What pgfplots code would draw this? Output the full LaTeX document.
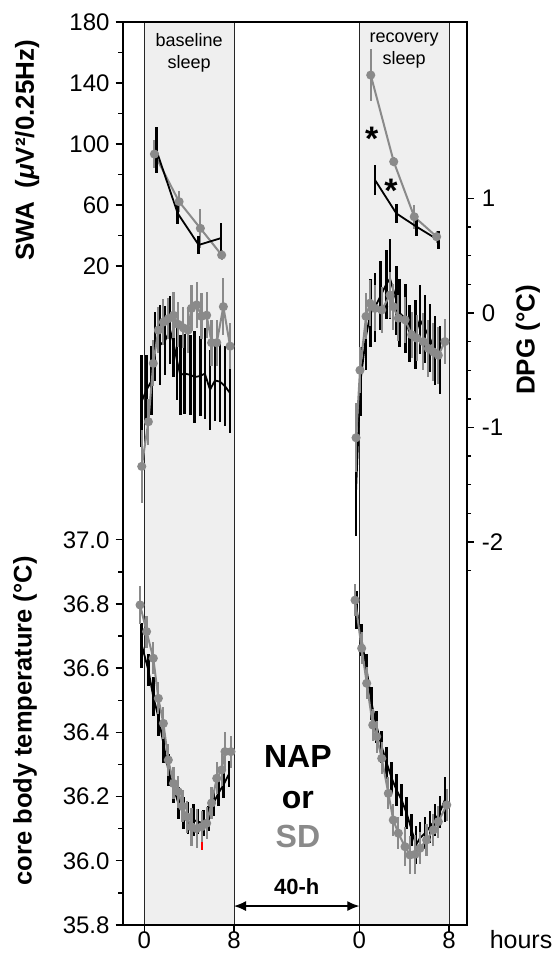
\documentclass[border=0pt]{standalone}
\usepackage{fontspec}
\setmainfont{Liberation Sans}
\usepackage{pgfplots}
\usepackage{pgfplotstable}
\pgfplotsset{compat=1.18}
\usetikzlibrary{arrows.meta}
\definecolor{bgshade}{RGB}{239,239,239}
\definecolor{dgray}{RGB}{138,138,138}

% ---------- SWA ----------
\pgfplotstableread{
h v e
1.07 96 15
2.98 54.5 7
4.85 33.8 6
6.85 38.3 10
}\swaBk
\pgfplotstableread{
h v e
0.9 93.4 9
3.1 62.2 7
5.0 44.7 13
6.9 27.2 3
}\swaBg
\pgfplotstableread{
h v e
1.02 145.2 17
3.07 88.4 3
4.9 52.3 8
6.9 39.2 4
}\swaRg
\pgfplotstableread{
h v e
1.40 76.4 10
3.3 54.5 6
5.1 45.8 6
7.05 37 6
}\swaRk

% ---------- DPG ----------
\pgfplotstableread{
h v e
-0.23 -1.34 0.32
0.36 -0.95 0.2
0.80 -0.44 0.2
1.25 -0.15 0.2
1.70 -0.08 0.2
2.14 -0.05 0.18
2.60 -0.02 0.2
3.03 -0.10 0.2
3.48 -0.13 0.18
3.90 -0.15 0.2
4.20 0.04 0.2
4.67 0.07 0.2
5.10 -0.03 0.2
5.56 -0.02 0.2
6.00 -0.26 0.2
6.46 -0.26 0.2
7.05 0.055 0.25
7.65 -0.29 0.2
}\dpgBg
\pgfplotstableread{
h v e
-0.23 -0.77 0.4
0.20 -0.67 0.3
0.66 -0.59 0.3
0.95 -0.29 0.3
1.40 -0.28 0.35
1.85 -0.24 0.3
2.30 -0.15 0.3
2.60 -0.26 0.3
2.90 -0.41 0.35
3.20 -0.54 0.35
3.60 -0.53 0.35
4.10 -0.54 0.35
4.50 -0.56 0.4
5.00 -0.55 0.35
5.40 -0.53 0.4
5.86 -0.67 0.35
6.30 -0.59 0.35
6.75 -0.60 0.35
7.20 -0.64 0.35
7.65 -0.70 0.35
}\dpgBk
\pgfplotstableread{
h v e
-0.29 -1.09 0.3
0.06 -0.50 0.2
0.60 -0.03 0.2
0.95 0.085 0.2
1.40 0.04 0.2
2.00 0.026 0.2
2.74 0.157 0.2
3.03 0.055 0.2
3.48 -0.046 0.2
4.08 -0.06 0.2
4.67 -0.19 0.2
5.12 -0.22 0.2
5.70 -0.25 0.25
6.16 -0.31 0.25
6.60 -0.34 0.25
7.05 -0.37 0.25
7.64 -0.25 0.2
}\dpgRg
\pgfplotstableread{
h v e
-0.29 -1.55 0.4
0.10 -0.60 0.3
0.60 -0.20 0.3
1.00 0.00 0.3
1.40 0.05 0.3
1.90 0.15 0.3
2.40 0.25 0.3
2.74 0.30 0.35
3.30 0.11 0.3
3.60 0.00 0.3
4.10 -0.05 0.3
4.50 -0.18 0.25
5.00 -0.19 0.3
5.40 -0.06 0.3
5.86 -0.14 0.3
6.30 -0.22 0.3
6.75 -0.33 0.3
7.20 -0.41 0.3
}\dpgRk

% ---------- core body temperature ----------
\pgfplotstableread{
h v e
-0.38 36.797 0.06
0.20 36.714 0.05
0.80 36.631 0.05
1.25 36.506 0.05
1.70 36.428 0.05
2.14 36.314 0.05
2.60 36.241 0.05
3.03 36.215 0.05
3.40 36.17 0.05
3.78 36.137 0.05
4.20 36.106 0.06
4.67 36.10 0.06
5.12 36.106 0.05
5.56 36.117 0.05
6.00 36.18 0.05
6.46 36.257 0.05
6.90 36.283 0.05
7.20 36.34 0.06
7.73 36.34 0.05
}\tBg
\pgfplotstableread{
h v e
-0.23 36.672 0.07
0.36 36.594 0.05
0.80 36.511 0.06
1.25 36.449 0.06
1.70 36.366 0.06
2.14 36.283 0.05
2.60 36.231 0.05
3.03 36.179 0.05
3.48 36.148 0.05
3.90 36.132 0.05
4.37 36.127 0.05
4.80 36.122 0.04
5.26 36.117 0.04
5.70 36.132 0.04
6.16 36.179 0.04
6.60 36.21 0.04
7.05 36.236 0.04
7.55 36.27 0.04
}\tBk
\pgfplotstableread{
h v e
-0.38 36.812 0.05
0.21 36.662 0.05
0.66 36.553 0.05
1.20 36.423 0.05
1.55 36.387 0.05
2.00 36.319 0.05
2.59 36.21 0.05
3.03 36.127 0.05
3.48 36.086 0.05
4.08 36.044 0.06
4.52 36.018 0.06
4.97 36.02 0.06
5.41 36.039 0.05
6.00 36.065 0.05
6.60 36.096 0.05
7.05 36.122 0.05
7.80 36.174 0.05
}\tRg
\pgfplotstableread{
h v e
-0.23 36.781 0.06
0.21 36.688 0.05
0.66 36.594 0.05
1.10 36.49 0.05
1.55 36.418 0.05
2.00 36.355 0.05
2.45 36.304 0.05
2.89 36.257 0.05
3.33 36.22 0.05
3.78 36.189 0.05
4.22 36.148 0.05
4.67 36.096 0.05
5.05 36.049 0.06
5.40 36.07 0.05
5.86 36.086 0.05
6.30 36.106 0.05
6.75 36.127 0.05
7.20 36.153 0.05
7.64 36.19 0.07
}\tRk

\pgfplotsset{
  base/.style={width=344pt,height=903pt,scale only axis,
    xmin=-1.93,xmax=28.76,at={(0,0)},anchor=south west,clip=false,
    /pgf/number format/assume math mode=true,
    tick align=outside,major tick length=7pt,minor tick length=4.5pt,
    tick style={black,line width=1.4pt},
    ticklabel style={font=\fontsize{24}{24}\selectfont},
    axis line style={line width=1.8pt,black},
  },
  blk/.style={black,line width=1.8pt,mark=none,
    error bars/.cd,y dir=both,y explicit,error mark=none,
    error bar style={line width=2.6pt,black}},
  gry/.style={dgray,line width=2pt,mark=*,mark size=3.5pt,
    mark options={fill=dgray,draw=dgray},
    error bars/.cd,y dir=both,y explicit,error mark=none,
    error bar style={line width=2.2pt,dgray}},
}

\begin{document}
\begin{tikzpicture}
% ===== temperature axis =====
\begin{axis}[base,ymin=35.8,ymax=38.613,axis on top,
  xtick={0,8,19.18,27.18},xticklabels={0,8,0,8},
  xtick pos=left,ytick pos=left,
  ytick={35.8,36.0,36.2,36.4,36.6,36.8,37.0},
  minor ytick={35.9,36.1,36.3,36.5,36.7,36.9},
  xticklabel style={inner ysep=0pt},
  yticklabel style={inner xsep=6pt,/pgf/number format/.cd,fixed,fixed zerofill,precision=1},
]
\fill[bgshade] (axis cs:0,35.8) rectangle (axis cs:8,38.613);
\fill[bgshade] (axis cs:19.18,35.8) rectangle (axis cs:27.18,38.613);
\draw[line width=0.9pt,black!85] (axis cs:0,35.8) -- (axis cs:0,38.613);
\draw[line width=0.9pt,black!85] (axis cs:8,35.8) -- (axis cs:8,38.613);
\draw[line width=0.9pt,black!85] (axis cs:19.18,35.8) -- (axis cs:19.18,38.613);
\draw[line width=0.9pt,black!85] (axis cs:27.18,35.8) -- (axis cs:27.18,38.613);

\addplot[blk] table[x=h,y=v,y error=e] {\tBk};
\addplot[gry] table[x=h,y=v,y error=e] {\tBg};
\addplot[blk] table[x expr=\thisrow{h}+19.18,y=v,y error=e] {\tRk};
\addplot[gry] table[x expr=\thisrow{h}+19.18,y=v,y error=e] {\tRg};
\addplot[red,line width=1.6pt] coordinates {(5.12,36.035) (5.12,36.06)};

\node[anchor=north,align=center,inner sep=0pt,font=\fontsize{18}{22}\selectfont,yshift=-11pt]
  at (axis cs:4,38.613) {baseline\\sleep};
\node[anchor=north,align=center,inner sep=0pt,font=\fontsize{18}{22}\selectfont,yshift=-11pt]
  at (axis cs:23.18,38.613) {recovery\\sleep};

\node[anchor=base,inner sep=0pt,font=\fontsize{32}{32}\selectfont\bfseries] at (axis cs:13.7,36.292) {NAP};
\node[anchor=base,inner sep=0pt,font=\fontsize{32}{32}\selectfont\bfseries] at (axis cs:13.7,36.164) {or};
\node[anchor=base,inner sep=0pt,font=\fontsize{32}{32}\selectfont\bfseries,text=dgray] at (axis cs:13.7,36.04) {SD};
\node[inner sep=0pt,font=\fontsize{22}{22}\selectfont\bfseries] at (axis cs:13.59,35.918) {40-h};
\draw[{Latex[length=12pt,width=10pt]}-{Latex[length=12pt,width=10pt]},line width=1.2pt]
  (axis cs:8,35.859) -- (axis cs:19.18,35.859);

\node[anchor=north,inner sep=0pt,yshift=-5pt,font=\fontsize{25}{25}\selectfont]
  at (axis description cs:1.158,0) {hours};

\node[rotate=90,inner sep=0pt,font=\fontsize{26}{26}\selectfont\bfseries]
  at (axis description cs:-0.278,0.858) {SWA\hspace{0.5em}(\textit{μ}V²/0.25Hz)};
\node[rotate=90,inner sep=0pt,font=\fontsize{25.5}{25.5}\selectfont\bfseries]
  at (axis description cs:-0.284,0.226) {core body temperature (°C)};
\node[rotate=90,inner sep=0pt,font=\fontsize{26}{26}\selectfont\bfseries]
  at (axis description cs:1.178,0.648) {DPG (°C)};
\end{axis}

% ===== SWA axis (left, top) =====
\begin{axis}[base,ymin=-412.1,ymax=180,
  axis x line=none,axis y line*=left,
  ytick={20,60,100,140,180},minor ytick={40,80,120,160},
  yticklabel style={inner xsep=6pt},
]
\addplot[gry] table[x=h,y=v,y error=e] {\swaBg};
\addplot[blk] table[x=h,y=v,y error=e] {\swaBk};
\addplot[gry] table[x expr=\thisrow{h}+19.18,y=v,y error=e] {\swaRg};
\addplot[blk] table[x expr=\thisrow{h}+19.18,y=v,y error=e] {\swaRk};
\node[anchor=base,inner sep=0pt,yshift=-19pt,font=\fontsize{34}{34}\selectfont\bfseries] at (axis cs:20.28,108) {*};
\node[anchor=base,inner sep=0pt,yshift=-19pt,font=\fontsize{34}{34}\selectfont\bfseries] at (axis cs:22.01,74.2) {*};
\end{axis}

% ===== DPG axis (right) =====
\begin{axis}[base,ymin=-5.345,ymax=2.541,
  axis x line=none,axis y line*=right,
  ytick={-2,-1,0,1},
  minor ytick={-2.25,-1.75,-1.5,-1.25,-0.75,-0.5,-0.25,0.25,0.5,0.75},
  yticklabel style={inner xsep=8pt},
]
\addplot[blk] table[x=h,y=v,y error=e] {\dpgBk};
\addplot[gry] table[x=h,y=v,y error=e] {\dpgBg};
\addplot[blk] table[x expr=\thisrow{h}+19.18,y=v,y error=e] {\dpgRk};
\addplot[gry] table[x expr=\thisrow{h}+19.18,y=v,y error=e] {\dpgRg};
\end{axis}

% frame of the plot area, as filled bars
\fill[black] (-1pt,-1pt) rectangle (345pt,1pt);
\fill[black] (-1pt,902pt) rectangle (345pt,904pt);
\fill[black] (-1pt,-1pt) rectangle (1pt,904pt);
\fill[black] (343pt,-1pt) rectangle (345pt,904pt);

\pgfresetboundingbox
\path[use as bounding box] (-122.7pt,-28pt) rectangle (433.3pt,925pt);
\end{tikzpicture}
\end{document}
